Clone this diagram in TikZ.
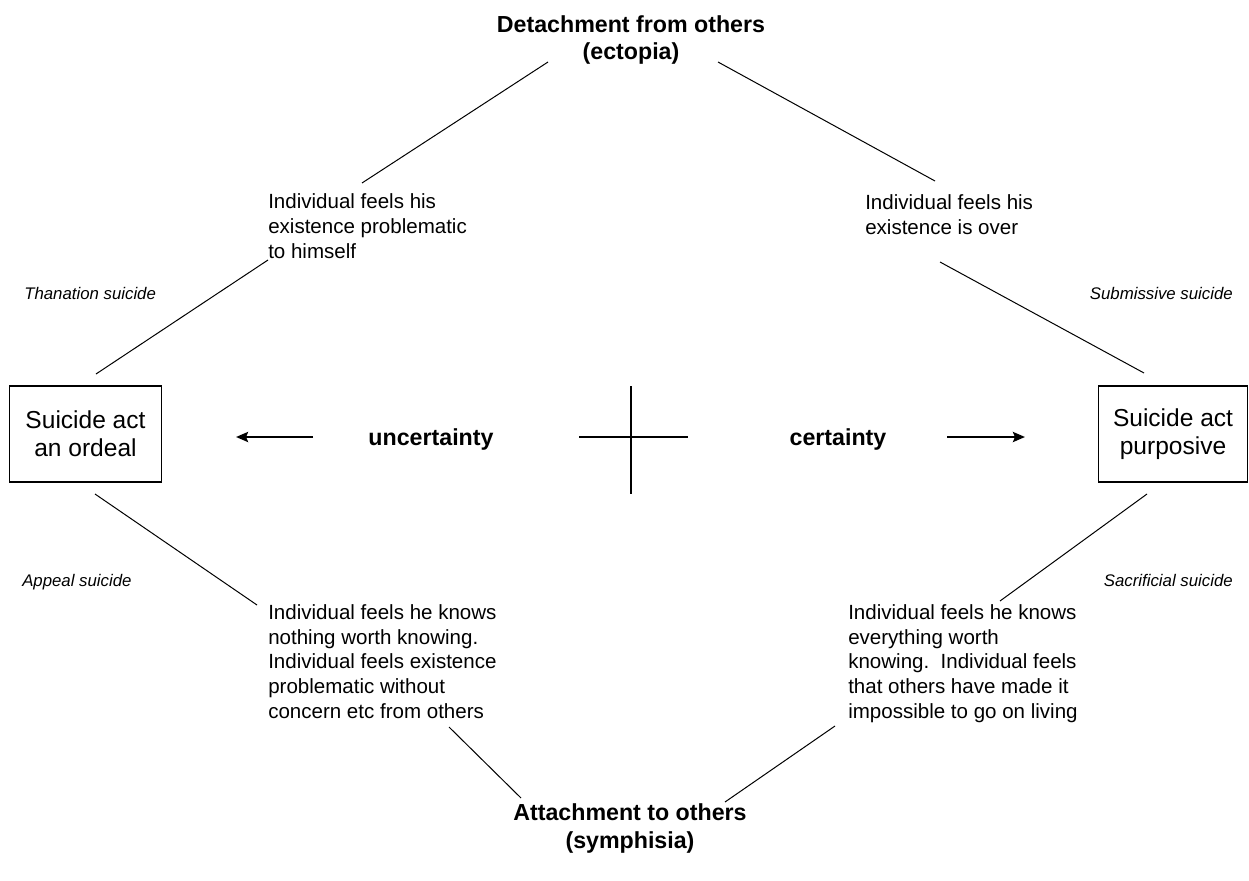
\documentclass[tikz,border=0pt]{standalone}
\usepackage{fontspec}
\setmainfont{Liberation Sans}
\usetikzlibrary{arrows.meta}

\begin{document}
\begin{tikzpicture}[
  x=0.75pt, y=-0.75pt,
  every node/.style={inner sep=0pt},
  box/.style={draw, line width=1pt, align=center, minimum width=114pt, minimum height=72pt,
    font=\fontsize{18.4}{21}\selectfont},
  note/.style={anchor=base west, align=left, font=\fontsize{15.4}{18.4}\selectfont},
  kind/.style={font=\fontsize{12.6}{15}\selectfont\itshape},
  pole/.style={anchor=base, align=center, font=\fontsize{17.4}{20.3}\selectfont\bfseries},
  axis/.style={anchor=base, font=\fontsize{17.4}{20}\selectfont\bfseries},
  link/.style={line width=0.75pt},
  arrow/.style={-{Stealth[length=9pt, width=7.5pt, inset=1.5pt]}, line width=1.9pt}
]
  \useasboundingbox (0,0) rectangle (1249,881);

  % Nodes (base = last line)
  \node (detach) [pole] at (631,60) {Detachment from others\\(ectopia)};
  \node (attach) [pole] at (630,848) {Attachment to others\\(symphisia)};
  \node (ordeal) [box] at (85.5,434) {Suicide act\\an ordeal};
  \node (purpose) [box, minimum width=112pt] at (1173,434) {Suicide act\\purposive};
  \node (unc) [axis] at (431,445) {uncertainty};
  \node (cert) [axis] at (838,445) {certainty};

  \node (tlnote) [note] at (268,258) {Individual feels his\\existence problematic\\to himself};
  \node (trnote) [note] at (865,234) {Individual feels his\\existence is over};
  \node (blnote) [note] at (268,718) {Individual feels he knows\\nothing worth knowing.\\Individual feels existence\\problematic without\\concern etc from others};
  \node (brnote) [note] at (848,718) {Individual feels he knows\\everything worth\\knowing.\ \ Individual feels\\that others have made it\\impossible to go on living};

  \node (thanat) [kind, anchor=base west] at (24,299) {Thanation suicide};
  \node (submis) [kind, anchor=base east] at (1233,299) {Submissive suicide};
  \node (appeal) [kind, anchor=base west] at (22,586) {Appeal suicide};
  \node (sacrif) [kind, anchor=base east] at (1233,586) {Sacrificial suicide};

  % Line ends
  \coordinate (tla) at (548,62);  \coordinate (tlb) at (362,183);
  \coordinate (tlc) at (268,260); \coordinate (tld) at (96,374);
  \coordinate (tra) at (718,62);  \coordinate (trb) at (935,181);
  \coordinate (trc) at (940,262); \coordinate (trd) at (1144,373);
  \coordinate (bla) at (95,494);  \coordinate (blb) at (257,605);
  \coordinate (blc) at (449,727); \coordinate (bld) at (521,798);
  \coordinate (bra) at (1147,494); \coordinate (brb) at (1000,601);
  \coordinate (brc) at (835,726);  \coordinate (brd) at (725,802);
  \coordinate (ltail) at (313,437); \coordinate (lhead) at (236,437);
  \coordinate (rtail) at (947,437); \coordinate (rhead) at (1025,437);
  \coordinate (vtop) at (631,386); \coordinate (vbot) at (631,494);
  \coordinate (hl) at (579,437);   \coordinate (hr) at (688,437);

  % Paths
  \draw [link] (tla) -- (tlb);
  \draw [link] (tlc) -- (tld);
  \draw [link] (tra) -- (trb);
  \draw [link] (trc) -- (trd);
  \draw [link] (bla) -- (blb);
  \draw [link] (blc) -- (bld);
  \draw [link] (bra) -- (brb);
  \draw [link] (brc) -- (brd);
  \draw [arrow] (ltail) -- (lhead);
  \draw [arrow] (rtail) -- (rhead);
  \draw [line width=0.9pt] (vtop) -- (vbot);
  \draw [line width=0.9pt] (hl) -- (hr);
\end{tikzpicture}
\end{document}
